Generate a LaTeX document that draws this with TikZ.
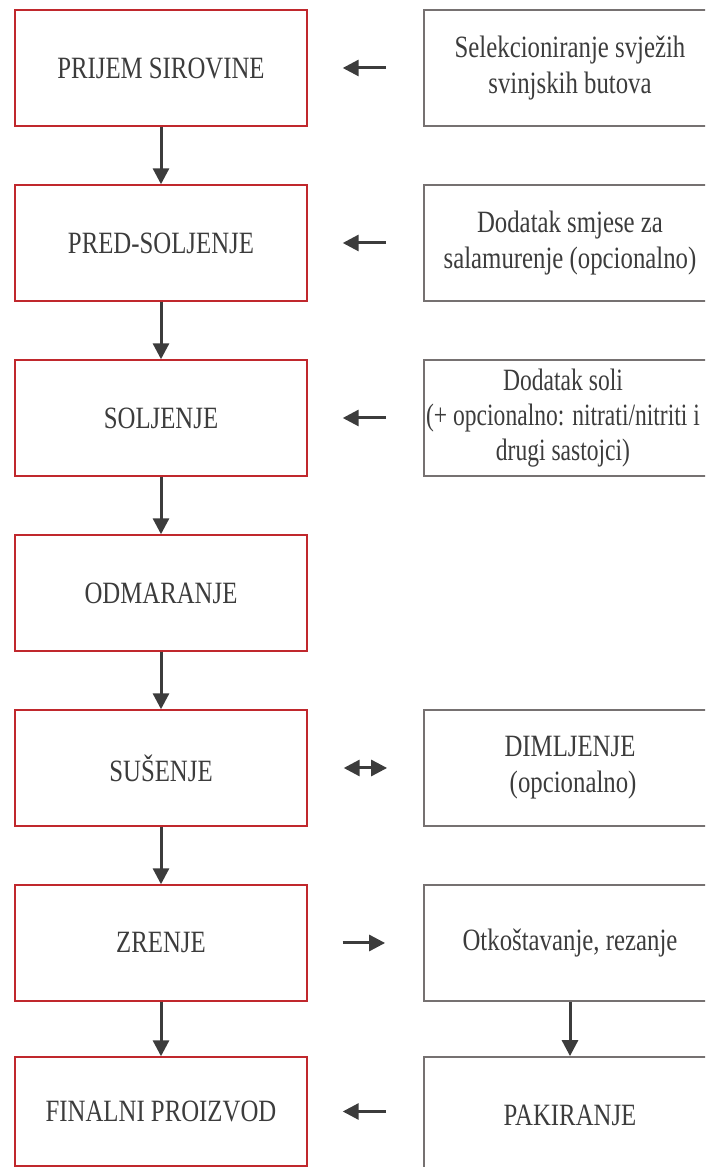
\documentclass[tikz,border=0pt]{standalone}
\usepackage{fontspec}
\setmainfont{Liberation Serif}[FakeStretch=0.80]
\newfontfamily\narrowserif{Liberation Serif}[FakeStretch=0.76]
\usetikzlibrary{arrows.meta}

\definecolor{stagered}{RGB}{192,40,45}
\definecolor{notegray}{RGB}{118,113,113}
\definecolor{ink}{RGB}{60,60,60}

\tikzset{
  stage/.style={draw=stagered, line width=1.4pt, minimum width=292pt, minimum height=116pt,
    inner sep=0pt, text=ink, font=\fontsize{31}{36}\selectfont},
  note/.style={draw=notegray, line width=1.8pt, minimum width=292pt, minimum height=116pt,
    inner sep=0pt, align=center, text=ink, font=\fontsize{31}{36}\selectfont},
  flow/.style={->, draw=ink, line width=3pt},
}

\begin{document}
\begin{tikzpicture}[>={Triangle[length=16pt,width=16pt]}, x=1pt, y=1pt]
\useasboundingbox (0,0) rectangle (705,1167);
\clip (0,0) rectangle (705,1167);

% process steps (left column)
\foreach \y/\name/\txt in
    {1099/p1/PRIJEM SIROVINE,
     924/p2/PRED-SOLJENJE,
     749/p3/SOLJENJE,
     574/p4/ODMARANJE,
     399/p5/SUŠENJE,
     224/p6/ZRENJE}
    {
    \node[stage] (\name) at (161,\y) {\txt};
    }
\node[stage, minimum height=109pt] (p7) at (161,55.5) {FINALNI PROIZVOD};

% side notes (right column)
\node[note] (n1) at (570,1099) {Selekcioniranje svježih\\svinjskih butova};
\node[note] (n2) at (570,924) {Dodatak smjese za\\salamurenje (opcionalno)};
\node[note] (n3) at (570,749) {};
\node[text=ink, align=center, inner sep=0pt, font=\narrowserif\fontsize{31}{35}\selectfont]
    (n3text) at ([xshift=-7pt]n3.center) {Dodatak soli\\(+ opcionalno: nitrati/nitriti i\\drugi sastojci)};
\node[note] (n5) at (570,399) {DIMLJENJE\\\ (opcionalno)};
\node[note] (n6) at (570,224) {Otkoštavanje, rezanje};
\node[note] (n7) at (570,52) {PAKIRANJE};

\foreach \a/\b in {p1/p2, p2/p3, p3/p4, p4/p5, p5/p6, p6/p7}
    \draw[flow] (\a) -- (\b);
\draw[flow] (n6) -- (n7);

\foreach \n/\p in {n1/p1, n2/p2, n3/p3}
    \draw[flow, shorten <=37pt, shorten >=35pt] (\n) -- (\p);
\draw[flow, shorten <=37pt, shorten >=35pt] (n7.west |- p7) -- (p7);
\draw[flow, <->, shorten <=36pt, shorten >=36pt] (p5) -- (n5);
\draw[flow, shorten <=35pt, shorten >=38pt] (p6) -- (n6);

\end{tikzpicture}
\end{document}
